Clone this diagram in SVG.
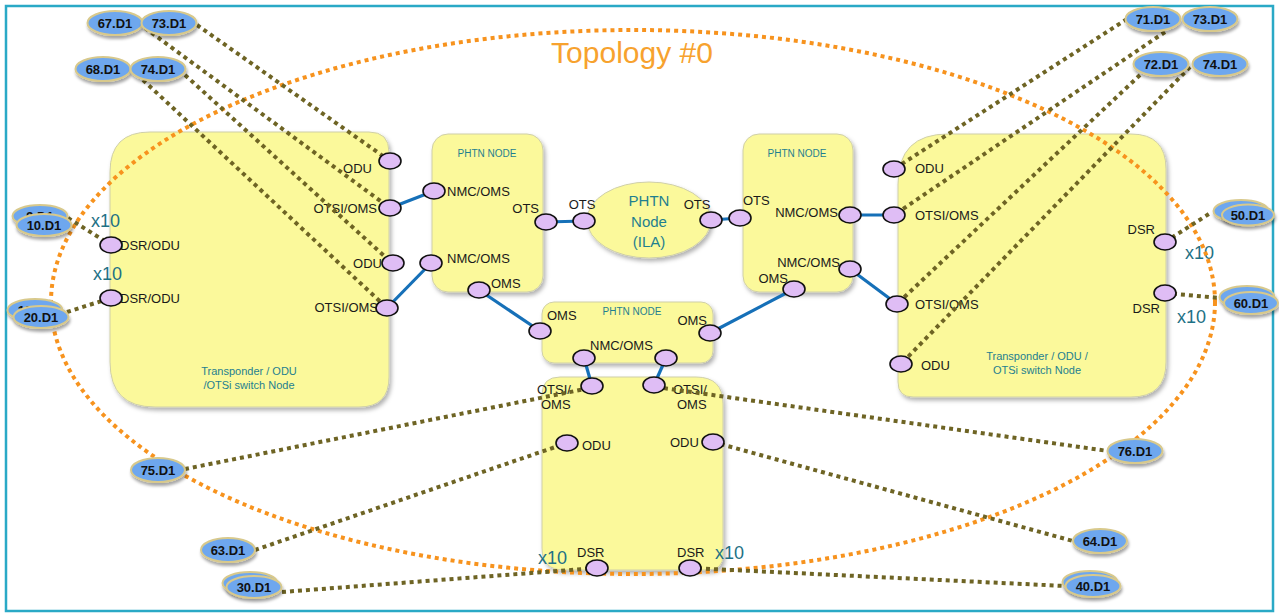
<svg xmlns="http://www.w3.org/2000/svg" width="1279" height="613" viewBox="0 0 1279 613">
<defs>
<filter id="sh" x="-20%" y="-20%" width="140%" height="140%"><feDropShadow dx="2" dy="3" stdDeviation="2" flood-color="#000" flood-opacity="0.3"/></filter>
<filter id="osh" x="-20%" y="-30%" width="140%" height="170%"><feDropShadow dx="1" dy="3" stdDeviation="1.5" flood-color="#000" flood-opacity="0.35"/></filter>
</defs>
<style>
.body{fill:#fbf99b;stroke:#cfcfa8;stroke-width:1;filter:url(#sh)}
.lbl{font-family:"Liberation Sans",Arial,sans-serif;font-size:13px;fill:#1a1a1a}
.ttl{font-family:"Liberation Sans",Arial,sans-serif;font-size:10px;fill:#1f7f8f;text-anchor:middle}
.sub{font-family:"Liberation Sans",Arial,sans-serif;font-size:11px;fill:#1f7f8f;text-anchor:middle}
.x10{font-family:"Liberation Sans",Arial,sans-serif;font-size:18px;fill:#1e7185}
.port{fill:#dfbdf5;stroke:#111;stroke-width:1.6}
.blue{stroke:#1670b8;stroke-width:3.2;fill:none}
.olive{stroke:#6e6424;stroke-width:4;stroke-dasharray:4 4;fill:none}
.ep ellipse{fill:#6ea7ee;stroke:#d8c98c;stroke-width:2;filter:url(#osh)}
.ep text{font-family:"Liberation Sans",Arial,sans-serif;font-size:13px;font-weight:bold;fill:#111;text-anchor:middle}
</style>
<rect x="0" y="0" width="1279" height="613" fill="#ffffff"/>
<rect x="6" y="6" width="1267" height="605" fill="#ffffff" stroke="#2aa9c6" stroke-width="2.5"/>

<g id="node-left">
<path class="body" d="M150,132 H369 Q389,132 389,152 V377 Q389,407 359,407 H155 Q110,407 110,362 V172 Q110,132 150,132 Z"/>
<text class="sub" x="249" y="375">Transponder / ODU</text>
<text class="sub" x="249" y="389">/OTSi switch Node</text>
<text class="lbl" x="372" y="173" text-anchor="end">ODU</text>
<text class="lbl" x="377" y="213" text-anchor="end">OTSI/OMS</text>
<text class="lbl" x="382" y="268" text-anchor="end">ODU</text>
<text class="lbl" x="378" y="312" text-anchor="end">OTSI/OMS</text>
<text class="lbl" x="120" y="250">DSR/ODU</text>
<text class="lbl" x="120" y="303">DSR/ODU</text>
<text class="x10" x="91" y="227">x10</text>
<text class="x10" x="93" y="280">x10</text>
</g>

<g id="node-phtn-top">
<rect class="body" x="432" y="134" width="111" height="158" rx="16"/>
<text class="ttl" x="487" y="157">PHTN NODE</text>
<text class="lbl" x="447" y="196">NMC/OMS</text>
<text class="lbl" x="447" y="263">NMC/OMS</text>
<text class="lbl" x="539" y="213" text-anchor="end">OTS</text>
<text class="lbl" x="491" y="288">OMS</text>
</g>

<g id="node-ila">
<ellipse cx="649" cy="220" rx="62" ry="38" fill="#fbf99b" stroke="#cfcfa8" stroke-width="1" filter="url(#sh)"/>
<text class="sub" x="649" y="206" style="font-size:15px">PHTN</text>
<text class="sub" x="649" y="227" style="font-size:15px">Node</text>
<text class="sub" x="649" y="247" style="font-size:15px">(ILA)</text>
<text class="lbl" x="582" y="209" text-anchor="middle">OTS</text>
<text class="lbl" x="697" y="209" text-anchor="middle">OTS</text>
</g>

<g id="node-phtn-right">
<rect class="body" x="743" y="134" width="110" height="158" rx="16"/>
<text class="ttl" x="797" y="157">PHTN NODE</text>
<text class="lbl" x="743" y="205">OTS</text>
<text class="lbl" x="838" y="217" text-anchor="end">NMC/OMS</text>
<text class="lbl" x="840" y="267" text-anchor="end">NMC/OMS</text>
<text class="lbl" x="788" y="283" text-anchor="end">OMS</text>
</g>

<g id="node-right">
<path class="body" d="M948,134 H1131 Q1166,134 1166,169 V362 Q1166,397 1131,397 H913 Q898,397 898,382 V184 Q898,134 948,134 Z"/>
<text class="sub" x="1037" y="360">Transponder / ODU /</text>
<text class="sub" x="1037" y="374">OTSi switch Node</text>
<text class="lbl" x="915" y="173">ODU</text>
<text class="lbl" x="915" y="220">OTSI/OMS</text>
<text class="lbl" x="915" y="309">OTSI/OMS</text>
<text class="lbl" x="921" y="370">ODU</text>
<text class="lbl" x="1155" y="234" text-anchor="end">DSR</text>
<text class="lbl" x="1160" y="313" text-anchor="end">DSR</text>
<text class="x10" x="1185" y="259">x10</text>
<text class="x10" x="1177" y="323">x10</text>
</g>

<g id="node-phtn-bottom">
<rect class="body" x="542" y="302" width="171" height="61" rx="12"/>
<text class="ttl" x="632" y="315">PHTN NODE</text>
<text class="lbl" x="547" y="320">OMS</text>
<text class="lbl" x="707" y="325" text-anchor="end">OMS</text>
<text class="lbl" x="590" y="350">NMC/OMS</text>
</g>

<g id="node-bottom">
<path class="body" d="M560,377 H696 Q723,377 723,404 V555 Q723,570 708,570 H564 Q542,570 542,548 V395 Q542,377 560,377 Z"/>
<text class="lbl" x="537" y="394">OTSI/</text>
<text class="lbl" x="541" y="409">OMS</text>
<text class="lbl" x="673" y="394">OTSI/</text>
<text class="lbl" x="677" y="409">OMS</text>
<text class="lbl" x="582" y="450">ODU</text>
<text class="lbl" x="670" y="447">ODU</text>
<text class="lbl" x="577" y="557">DSR</text>
<text class="lbl" x="677" y="557">DSR</text>
<text class="x10" x="538" y="564">x10</text>
<text class="x10" x="715" y="559">x10</text>
</g>

<g id="topology">
<ellipse cx="633" cy="302" rx="582" ry="272" fill="none" stroke="#f7931e" stroke-width="4" stroke-dasharray="4 4"/>
<text x="632" y="63" text-anchor="middle" font-family="Liberation Sans, Arial, sans-serif" font-size="30" fill="#f7a22e">Topology #0</text>
</g>

<g id="connectors">
<line class="blue" x1="390" y1="208" x2="434" y2="191"/>
<line class="blue" x1="387" y1="308" x2="431" y2="263"/>
<line class="blue" x1="546" y1="222" x2="584" y2="221"/>
<line class="blue" x1="711" y1="220" x2="740" y2="218"/>
<line class="blue" x1="479" y1="290" x2="540" y2="331"/>
<line class="blue" x1="710" y1="333" x2="794" y2="289"/>
<line class="blue" x1="850" y1="215" x2="894" y2="215"/>
<line class="blue" x1="850" y1="269" x2="897" y2="304"/>
<line class="blue" x1="584" y1="358" x2="592" y2="386"/>
<line class="blue" x1="666" y1="358" x2="654" y2="385"/>
<line class="olive" x1="197" y1="25" x2="390" y2="161"/>
<line class="olive" x1="145" y1="28" x2="390" y2="208"/>
<line class="olive" x1="185" y1="75" x2="392" y2="263"/>
<line class="olive" x1="143" y1="80" x2="387" y2="308"/>
<line class="olive" x1="68" y1="218" x2="111" y2="245"/>
<line class="olive" x1="67" y1="312" x2="111" y2="298"/>
<line class="olive" x1="1127" y1="19" x2="894" y2="169"/>
<line class="olive" x1="1165" y1="32" x2="894" y2="215"/>
<line class="olive" x1="1140" y1="75" x2="897" y2="304"/>
<line class="olive" x1="1190" y1="67" x2="901" y2="364"/>
<line class="olive" x1="1165" y1="242" x2="1212" y2="212"/>
<line class="olive" x1="1165" y1="293" x2="1220" y2="298"/>
<line class="olive" x1="185" y1="469" x2="590" y2="388"/>
<line class="olive" x1="255" y1="550" x2="567" y2="443"/>
<line class="olive" x1="282" y1="592" x2="597" y2="568"/>
<line class="olive" x1="656" y1="387" x2="1108" y2="451"/>
<line class="olive" x1="713" y1="442" x2="1073" y2="541"/>
<line class="olive" x1="690" y1="568" x2="1065" y2="586"/>
</g>

<g id="ports">
<g id="ports-left">
<ellipse class="port" cx="390" cy="161" rx="11" ry="8"/>
<ellipse class="port" cx="390" cy="208" rx="11" ry="8"/>
<ellipse class="port" cx="393" cy="263" rx="11" ry="8"/>
<ellipse class="port" cx="387" cy="308" rx="11" ry="8"/>
<ellipse class="port" cx="111" cy="245" rx="11" ry="8"/>
<ellipse class="port" cx="111" cy="298" rx="11" ry="8"/>
</g>
<g id="ports-phtn-top">
<ellipse class="port" cx="434" cy="191" rx="11" ry="8"/>
<ellipse class="port" cx="431" cy="263" rx="11" ry="8"/>
<ellipse class="port" cx="546" cy="222" rx="11" ry="8"/>
<ellipse class="port" cx="479" cy="290" rx="11" ry="8"/>
</g>
<g id="ports-ila">
<ellipse class="port" cx="584" cy="221" rx="11" ry="8"/>
<ellipse class="port" cx="711" cy="220" rx="11" ry="8"/>
</g>
<g id="ports-phtn-right">
<ellipse class="port" cx="740" cy="218" rx="11" ry="8"/>
<ellipse class="port" cx="850" cy="215" rx="11" ry="8"/>
<ellipse class="port" cx="850" cy="269" rx="11" ry="8"/>
<ellipse class="port" cx="794" cy="289" rx="11" ry="8"/>
</g>
<g id="ports-right">
<ellipse class="port" cx="894" cy="169" rx="11" ry="8"/>
<ellipse class="port" cx="894" cy="215" rx="11" ry="8"/>
<ellipse class="port" cx="897" cy="304" rx="11" ry="8"/>
<ellipse class="port" cx="901" cy="364" rx="11" ry="8"/>
<ellipse class="port" cx="1165" cy="242" rx="11" ry="8"/>
<ellipse class="port" cx="1165" cy="293" rx="11" ry="8"/>
</g>
<g id="ports-phtn-bottom">
<ellipse class="port" cx="540" cy="331" rx="11" ry="8"/>
<ellipse class="port" cx="710" cy="333" rx="11" ry="8"/>
<ellipse class="port" cx="584" cy="358" rx="11" ry="8"/>
<ellipse class="port" cx="666" cy="358" rx="11" ry="8"/>
</g>
<g id="ports-bottom">
<ellipse class="port" cx="592" cy="386" rx="11" ry="8"/>
<ellipse class="port" cx="654" cy="385" rx="11" ry="8"/>
<ellipse class="port" cx="567" cy="443" rx="11" ry="8"/>
<ellipse class="port" cx="713" cy="442" rx="11" ry="8"/>
<ellipse class="port" cx="597" cy="568" rx="11" ry="8"/>
<ellipse class="port" cx="690" cy="568" rx="11" ry="8"/>
</g>
</g>

<g id="ep-67" class="ep"><ellipse cx="115" cy="23" rx="27.5" ry="12"/><text x="115" y="28">67.D1</text></g>
<g id="ep-73a" class="ep"><ellipse cx="169" cy="23" rx="27.5" ry="12"/><text x="169" y="28">73.D1</text></g>
<g id="ep-68" class="ep"><ellipse cx="103" cy="69" rx="27.5" ry="12"/><text x="103" y="74">68.D1</text></g>
<g id="ep-74a" class="ep"><ellipse cx="158" cy="69" rx="27.5" ry="12"/><text x="158" y="74">74.D1</text></g>
<g id="ep-71" class="ep"><ellipse cx="1153" cy="19" rx="27.5" ry="12"/><text x="1153" y="24">71.D1</text></g>
<g id="ep-73b" class="ep"><ellipse cx="1210" cy="19" rx="27.5" ry="12"/><text x="1210" y="24">73.D1</text></g>
<g id="ep-72" class="ep"><ellipse cx="1161" cy="64" rx="27.5" ry="12"/><text x="1161" y="69">72.D1</text></g>
<g id="ep-74b" class="ep"><ellipse cx="1220" cy="64" rx="27.5" ry="12"/><text x="1220" y="69">74.D1</text></g>
<g id="ep-10" class="ep"><ellipse cx="40" cy="216" rx="27.5" ry="11"/><text x="40" y="221">9.D1</text><ellipse cx="44" cy="225" rx="27.5" ry="11"/><text x="44" y="230">10.D1</text></g>
<g id="ep-20" class="ep"><ellipse cx="35" cy="310" rx="27.5" ry="11"/><text x="35" y="315">19.D1</text><ellipse cx="41" cy="317" rx="27.5" ry="11"/><text x="41" y="322">20.D1</text></g>
<g id="ep-50" class="ep"><ellipse cx="1241" cy="211" rx="27.5" ry="11"/><ellipse cx="1248" cy="215" rx="26" ry="10.5"/><text x="1248" y="220">50.D1</text></g>
<g id="ep-60" class="ep"><ellipse cx="1247" cy="297" rx="27.5" ry="11"/><ellipse cx="1251" cy="303" rx="27" ry="11"/><text x="1251" y="308">60.D1</text></g>
<g id="ep-75" class="ep"><ellipse cx="158" cy="470" rx="27" ry="12"/><text x="158" y="475">75.D1</text></g>
<g id="ep-63" class="ep"><ellipse cx="228" cy="550" rx="27" ry="12"/><text x="228" y="555">63.D1</text></g>
<g id="ep-30" class="ep"><ellipse cx="250" cy="583" rx="27.5" ry="11"/><ellipse cx="254" cy="587" rx="27.5" ry="11"/><text x="254" y="592">30.D1</text></g>
<g id="ep-76" class="ep"><ellipse cx="1135" cy="451" rx="27.5" ry="12"/><text x="1135" y="456">76.D1</text></g>
<g id="ep-64" class="ep"><ellipse cx="1100" cy="541" rx="27" ry="12"/><text x="1100" y="546">64.D1</text></g>
<g id="ep-40" class="ep"><ellipse cx="1090" cy="582" rx="27.5" ry="11"/><ellipse cx="1093" cy="586" rx="27.5" ry="11"/><text x="1093" y="591">40.D1</text></g>
</svg>
